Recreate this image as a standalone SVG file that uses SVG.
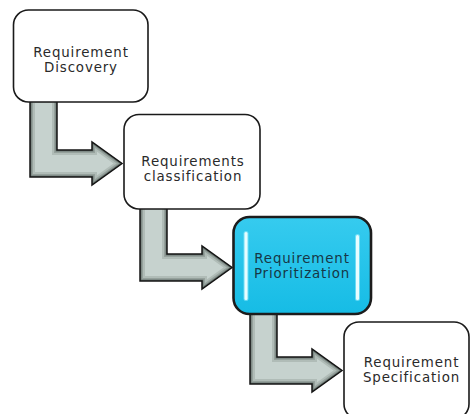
<svg xmlns="http://www.w3.org/2000/svg" xmlns:xlink="http://www.w3.org/1999/xlink" width="470" height="414" viewBox="0 0 470 414">
<style>
.box{fill:#ffffff;stroke:#1a1a1a;stroke-width:1.6}
.hl{fill:url(#cyan);stroke:#1c1c1c;stroke-width:2.6}
.t{font-family:"DejaVu Sans","Liberation Sans",sans-serif;font-size:13.4px;letter-spacing:0.85px;fill:#2a2a2a;text-anchor:middle}
.th{fill:#173746}
.aBase{fill:#c6d2ce}
.e1{fill:none;stroke:#b0bcb7;stroke-width:10}
.e2{fill:none;stroke:#95a19c;stroke-width:6}
.e3{fill:none;stroke:#6b7772;stroke-width:3}
.aLine{fill:none;stroke:#141414;stroke-width:1.5;stroke-linejoin:miter}
.shine{fill:#e8fdff}
.shineGlow{fill:#9beefe;opacity:0.6}
</style>
<defs>
<linearGradient id="cyan" x1="0" y1="0" x2="0" y2="1">
<stop offset="0" stop-color="#36cbef"/>
<stop offset="1" stop-color="#16bce5"/>
</linearGradient>
<path id="arw" d="M30,98 L57,98 L57,150 L92,150 L92,142 L122,163.5 L92,185 L92,177 L30,177 Z"/>
<clipPath id="arwClip"><use xlink:href="#arw"/></clipPath>
<g id="arrowShape">
<use xlink:href="#arw" class="aBase"/>
<g clip-path="url(#arwClip)">
<use xlink:href="#arw" class="e1"/>
<use xlink:href="#arw" class="e2"/>
<use xlink:href="#arw" class="e3"/>
</g>
<use xlink:href="#arw" class="aLine"/>
</g>
</defs>
<g id="connectors">
<use id="arrow1" xlink:href="#arrowShape"/>
<use id="arrow2" xlink:href="#arrowShape" transform="translate(110,104)"/>
<use id="arrow3" xlink:href="#arrowShape" transform="translate(220,207)"/>
</g>
<g id="node1">
<rect class="box" x="13.5" y="10" width="134.5" height="92" rx="15"/>
<text class="t" x="81" y="56.5">Requirement</text>
<text class="t" x="81" y="72">Discovery</text>
</g>
<g id="node2">
<rect class="box" x="124" y="114.5" width="136" height="94.5" rx="15"/>
<text class="t" x="193" y="165.5">Requirements</text>
<text class="t" x="193" y="181">classification</text>
</g>
<g id="node3">
<rect class="hl" x="233.5" y="217" width="137.5" height="97" rx="16"/>
<rect class="shineGlow" x="243.5" y="231" width="5" height="70" rx="2.5"/>
<rect class="shine" x="244.5" y="232" width="3" height="68" rx="1.5"/>
<rect class="shineGlow" x="355" y="234" width="5" height="67" rx="2.5"/>
<rect class="shine" x="356" y="235" width="3" height="65" rx="1.5"/>
<text class="t th" x="302" y="262.5">Requirement</text>
<text class="t th" x="302" y="278">Prioritization</text>
</g>
<g id="node4">
<rect class="box" x="344" y="322" width="125" height="97" rx="15"/>
<text class="t" x="411.5" y="366.5">Requirement</text>
<text class="t" x="411.5" y="382">Specification</text>
</g>
</svg>
